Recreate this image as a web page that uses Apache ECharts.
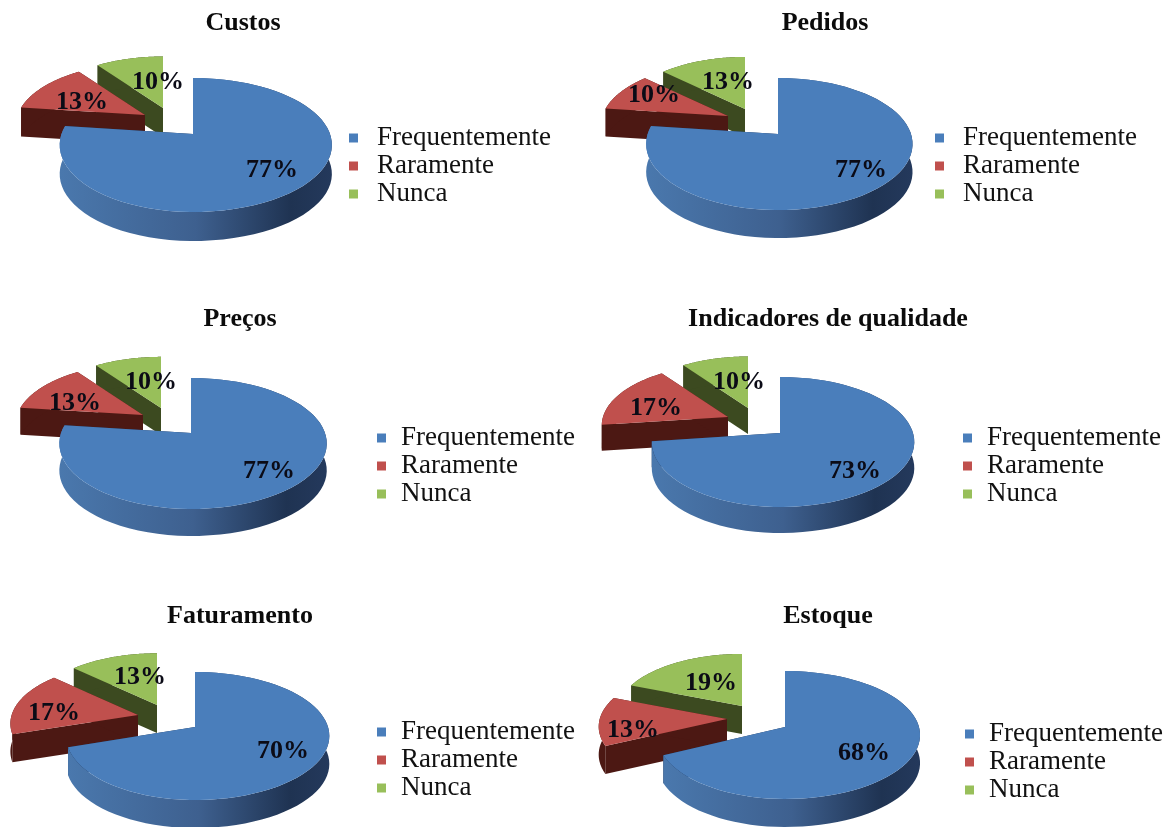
<!DOCTYPE html>
<html><head><meta charset="utf-8">
<style>html,body{margin:0;padding:0;background:#fff}#c{width:1171px;height:827px;filter:blur(0.5px)}</style>
<script src="https://cdn.jsdelivr.net/npm/echarts@6/dist/echarts.min.js"></script>
</head><body><div id="c"></div>
<script>
// Data
const categories = ['Frequentemente', 'Raramente', 'Nunca'];
const chartTitles = ['Custos', 'Pedidos', 'Preços', 'Indicadores de qualidade', 'Faturamento', 'Estoque'];
const custos = [77, 13, 10];
const pedidos = [77, 10, 13];
const precos = [77, 13, 10];
const indicadores = [73, 17, 10];
const faturamento = [70, 17, 13];
const estoque = [68, 13, 19];
const allValues = [custos, pedidos, precos, indicadores, faturamento, estoque];

// Layout (pixels): blue apex, radius, near/far extents; exploded wedge apexes and scales; label anchors
const layouts = [
 {title:[243,23], apex:[[193,134],[145,115],[163,108]], scale:[1,.93,.92], B:137, bl:.96, t:56, b:78, d:29,
  labels:[[272,170],[82,102],[158,82]], legend:[349,138], pad:14},
 {title:[825,23], apex:[[778,134],[728,116],[745,109]], scale:[1,.945,.93], B:133, bl:.98, t:56, b:76, d:28,
  labels:[[861,170],[654,95],[728,82]], legend:[935,138], pad:14},
 {title:[240,319], apex:[[191,433],[143,415],[161,408]], scale:[1,.94,.93], B:134, bl:.97, t:55, b:76, d:27,
  labels:[[269,471],[75,403],[151,382]], legend:[377,438], pad:10},
 {title:[828,319], apex:[[780,433],[728,417],[748,408]], scale:[1,.94,.92], B:133, bl:.955, t:56, b:74, d:26,
  labels:[[855,471],[656,408],[739,382]], legend:[963,438], pad:10},
 {title:[240,616], apex:[[195,727],[138,715],[157,705]], scale:[1,.95,.94], B:133, bl:.96, t:55, b:73, d:28,
  labels:[[283,751],[54,713],[140,677]], legend:[377,732], pad:10},
 {title:[828,616], apex:[[785,727],[727,719],[742,706]], scale:[1,.95,.93], B:134, bl:.95, t:56, b:72, d:28,
  labels:[[864,753],[633,730],[711,683]], legend:[965,734], pad:10}
];
const topColors = ['#4a7ebb', '#c0504d', '#98bf5a'];
const LG = echarts.graphic.LinearGradient;
const sideFills = [
  () => new LG(0,0,1,0,[{offset:0,color:'#4a78ad'},{offset:.5,color:'#3e608f'},{offset:.85,color:'#1f3352'},{offset:1,color:'#24395c'}]),
  () => '#4c1813',
  () => '#3c4a20'
];

function project(L, w, theta) {
  const A = 2*L.t*L.b/(L.t+L.b), k = (L.b-L.t)/(L.b+L.t);
  const u = Math.sin(theta), v = Math.cos(theta), s = L.scale[w]/(1+k*v);
  const xf = (w === 0 && u < 0) ? L.bl : 1;
  return [L.apex[w][0] + L.B*u*s*xf, L.apex[w][1] - A*v*s];
}
function wedgeRender(pieIdx, w) {
  return function (params, api) {
    const L = layouts[pieIdx], vals = allValues[pieIdx];
    const total = vals.reduce((a,b)=>a+b,0);
    const before = vals.slice(0,w).reduce((a,b)=>a+b,0);
    const value = api.value(0);
    const a0 = before/total*2*Math.PI, a1 = (before+value)/total*2*Math.PI;
    const N = 72, rim = [];
    for (let i=0;i<=N;i++) rim.push(project(L,w,a0+(a1-a0)*i/N));
    const ap = L.apex[w], d = L.d;
    const down = p => [p[0],p[1]+d];
    const band = rim.concat(rim.slice().reverse().map(down));
    const fill = sideFills[w]();
    const cutFill = w === 0 ? '#1d3152' : fill;
    const children = [
      {type:'polygon', z2:1, shape:{points:[ap,rim[0],down(rim[0]),down(ap)]}, style:{fill:cutFill}},
      {type:'polygon', z2:1, shape:{points:[ap,rim[N],down(rim[N]),down(ap)]}, style:{fill:cutFill}},
      {type:'polygon', z2:2, shape:{points:band}, style:{fill:fill}},
      {type:'polygon', z2:3, shape:{points:[ap].concat(rim)}, style:{fill:topColors[w]}},
      {type:'text', z2:100, style:{x:L.labels[w][0], y:L.labels[w][1], text:value+'%', align:'center', verticalAlign:'middle',
        fill:'#0b0b16', font:'bold 26px "Liberation Serif", serif'}}
    ];
    return {type:'group', children};
  };
}

const series = [];
allValues.forEach((vals, p) => {
  [2,1,0].forEach(w => {
    series.push({type:'custom', name:categories[w], coordinateSystem:'none', silent:true,
      z:2+p, itemStyle:{color:topColors[w]}, data:[[vals[w]]], renderItem:wedgeRender(p,w), clip:false});
  });
});

const chart = echarts.init(document.getElementById('c'), null, {renderer:'canvas'});
chart.setOption({
  animation:false, backgroundColor:'#fff',
  title: layouts.map((L,i)=>({text:chartTitles[i], left:L.title[0], top:L.title[1]-13, textAlign:'center',
    padding:0, textStyle:{fontFamily:'"Liberation Serif", serif', fontWeight:'bold', fontSize:26, color:'#0b0b0b'}})),
  legend: layouts.map(L=>({data:categories, orient:'vertical', left:L.legend[0], top:L.legend[1]-14, padding:0,
    icon:'rect', itemWidth:9, itemHeight:9, itemGap:0, selectedMode:false,
    textStyle:{fontFamily:'"Liberation Serif", serif', fontSize:27, color:'#111', lineHeight:28, height:28, padding:[0,0,0,L.pad]}})),
  series
});
</script></body></html>
